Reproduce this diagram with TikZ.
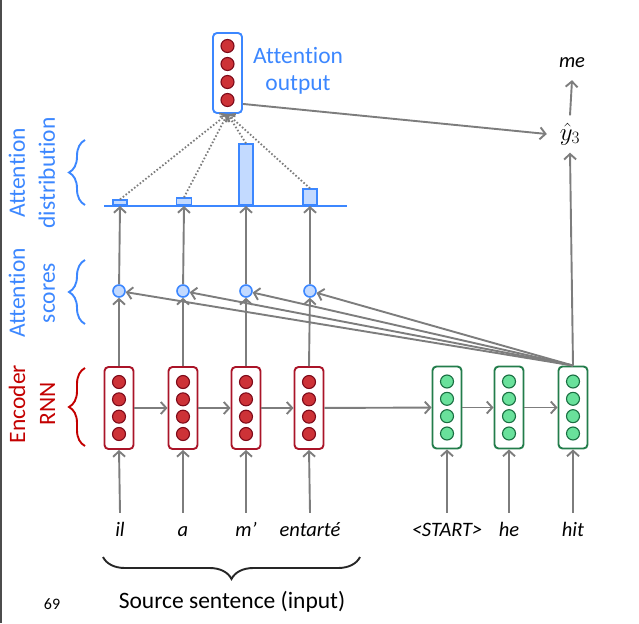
\documentclass[tikz,border=0pt]{standalone}
\usepackage{fontspec}
\setmainfont{Carlito}[Ligatures={NoCommon}]
\usetikzlibrary{arrows.meta,decorations.pathreplacing,calc}

\definecolor{encred}{RGB}{170,20,40}
\definecolor{dotred}{RGB}{205,50,55}
\definecolor{dotredb}{RGB}{125,10,25}
\definecolor{decgreen}{RGB}{35,125,75}
\definecolor{dotgreen}{RGB}{105,225,155}
\definecolor{dotgreenb}{RGB}{25,110,65}
\definecolor{attblue}{RGB}{60,135,255}
\definecolor{attfill}{RGB}{195,218,255}
\definecolor{arrgray}{RGB}{125,125,125}
\definecolor{labred}{RGB}{195,0,0}

\begin{document}
\begin{tikzpicture}[x=1pt,y=-1pt,
  cellbox/.style={rectangle, rounded corners=4pt, line width=1.9pt,
    minimum width=29pt, minimum height=82pt, inner sep=0pt},
  encbox/.style={cellbox, draw=encred},
  decbox/.style={cellbox, draw=decgreen},
  outbox/.style={cellbox, draw=attblue, minimum height=80pt},
  reddot/.style={circle, minimum size=13pt, inner sep=0pt, fill=dotred, draw=dotredb, line width=1.1pt},
  greendot/.style={circle, minimum size=13pt, inner sep=0pt, fill=dotgreen, draw=dotgreenb, line width=1.1pt},
  scoredot/.style={circle, minimum size=12pt, inner sep=0pt, fill=attfill, draw=attblue, line width=1.6pt},
  attbar/.style={rectangle, inner sep=0pt, minimum width=14pt, fill=attfill, draw=attblue, line width=1.6pt, anchor=south},
  arr/.style={draw=arrgray, line width=1.9pt, -{Straight Barb[length=5.5pt,width=12pt]}},
  dotarr/.style={draw=arrgray, line width=1.8pt, dash pattern=on 1.6pt off 2pt,
    -{Straight Barb[length=5pt,width=11pt]}},
  word/.style={font=\fontsize{20.5}{24}\selectfont\itshape, text height=14pt, text depth=5pt, inner xsep=2pt, inner ysep=9.5pt},
  biglabel/.style={font=\fontsize{23.5}{30}\selectfont, align=center},
  sidebrace/.style={decorate, decoration={brace, amplitude=16pt}, line width=1.9pt},
]
\useasboundingbox (0,0) rectangle (639,623);

% page edge rule
\fill[black!70] (0,0) rectangle (1.5,623);

% encoder RNN cells
\foreach \n/\x in {e1/119,e2/183,e3/246,e4/309}{
  \node[encbox] (\n) at (\x,408) {};
  \foreach \o [count=\k] in {-26,-8.67,8.67,26}
    \node[reddot] (\n-\k) at (\x,408+\o) {};
}

% decoder RNN cells
\foreach \n/\x in {d1/447,d2/509,d3/573}{
  \node[decbox] (\n) at (\x,407.5) {};
  \foreach \o [count=\k] in {-26,-8.67,8.67,26}
    \node[greendot] (\n-\k) at (\x,407.5+\o) {};
}

% attention output cell
\node[outbox] (ao) at (227.5,73) {};
\foreach \o [count=\k] in {-27,-9,9,27}
  \node[reddot] (ao-\k) at (227.5,73+\o) {};
\node[biglabel, text=attblue, font=\fontsize{23.5}{27}\selectfont] (aolab) at (298,71) {Attention\\output};

% attention scores
\foreach \n/\x in {s1/119,s2/183,s3/246,s4/310}
  \node[scoredot] (\n) at (\x,291) {};

% attention distribution
\coordinate (bl) at (104,206);
\coordinate (br) at (347,206);
\draw[attblue, line width=2pt] (bl) -- (br);
\node[attbar, minimum height=5pt] (b1) at (120,206) {};
\node[attbar, minimum height=7pt, minimum width=15pt] (b2) at (184,206) {};
\node[attbar, minimum height=61pt] (b3) at (246,206) {};
\node[attbar, minimum height=16pt] (b4) at (310,206) {};

% words
\node[word] (w1) at (120,532) {il};
\node[word] (w2) at (183,532) {a};
\node[word] (w3) at (246,532) {m’};
\node[word] (w4) at (310,532) {entarté};
\node[word] (w5) at (447,532) {<START>};
\node[word] (w6) at (509,532) {he};
\node[word] (w7) at (573,532) {hit};

% prediction
\node[minimum width=46pt, minimum height=37pt, inner sep=0pt, font=\fontsize{23}{26}\selectfont] (yhat) at (570,134) {$\hat{y}_3$};
\node[minimum height=34pt, inner sep=0pt, font=\fontsize{20.5}{24}\selectfont\itshape] (me) at (572,63) {me};

% inputs into cells
\foreach \w/\c in {w1/e1,w2/e2,w3/e3,w4/e4,w5/d1,w6/d2,w7/d3}
  \draw[arr] (\w.north) -- (\c.south);

% recurrent connections
\draw[arr] (e1) -- (e2);
\draw[arr] (e2) -- (e3);
\draw[arr] (e3) -- (e4);
\draw[arr] (e4) -- (d1);
\draw[arr] (d1) -- (d2);
\draw[arr] (d2) -- (d3);

% encoder states to scores to distribution
\foreach \i in {1,2,3,4}{
  \draw[arr] (e\i.north) -- (s\i);
  \draw[arr] (s\i) -- (b\i.south);
  \draw[dotarr] (b\i.north) -- (ao.south);
}

% decoder state scores every encoder state
\foreach \i in {1,2,3,4}
  \draw[arr] (d3.north) -- (s\i);

% output path
\draw[arr] ([yshift=10pt]ao.south east) -- (yhat.west);
\draw[arr] (d3.north) -- (yhat.south);
\draw[arr] (yhat.north) -- (me.south);

% side labels and braces
\node[biglabel, text=attblue, rotate=90] (ldist) at (32,173) {Attention\\distribution};
\node[biglabel, text=attblue, rotate=90] (lscore) at (32,293) {Attention\\scores};
\node[biglabel, text=labred, rotate=90] (lenc) at (32,404) {Encoder\\RNN};
\draw[sidebrace, attblue] (85,205) -- (85,140);
\draw[sidebrace, attblue] (85,324) -- (85,260);
\draw[sidebrace, labred] (85,446) -- (85,368);

% source brace
\draw[decorate, decoration={brace, amplitude=22pt}, line width=1.9pt, black!85] (360,557) -- (103,557);
\node[biglabel] (src) at (232,602) {Source sentence (input)};
\node[font=\fontsize{16}{19}\selectfont] (pg) at (52,604) {69};
\end{tikzpicture}
\end{document}
